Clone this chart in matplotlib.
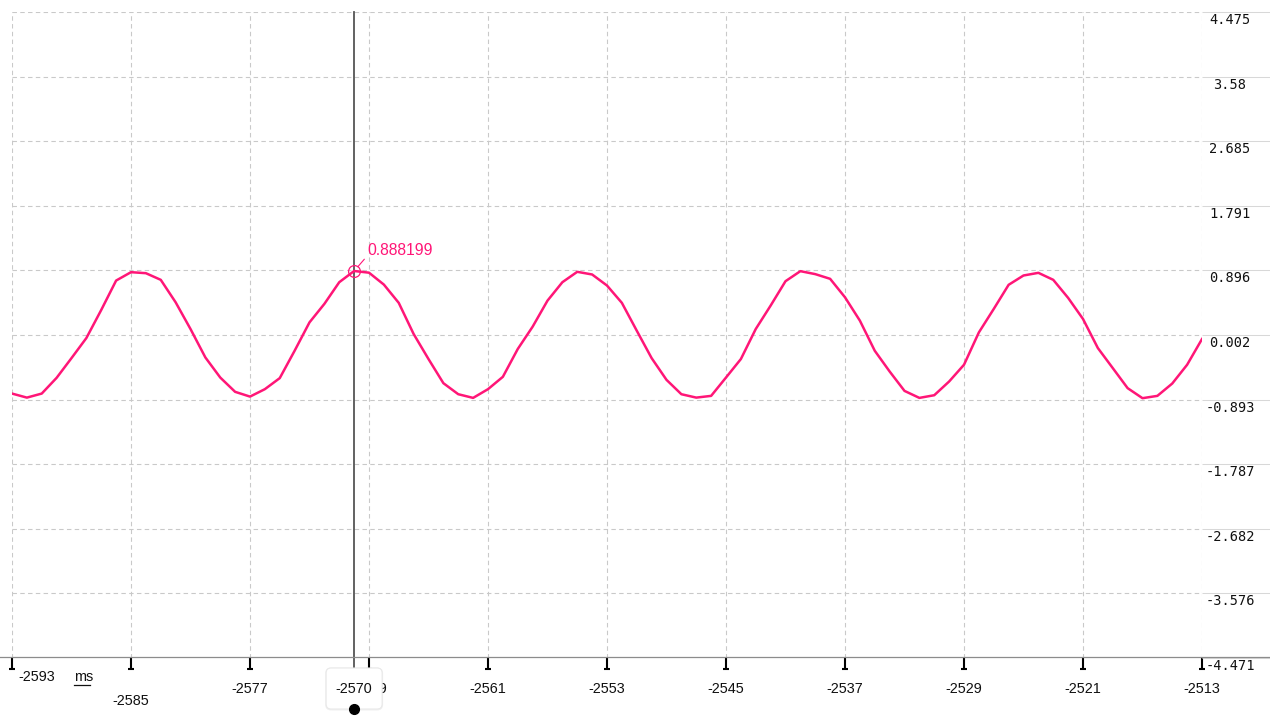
import numpy as np
import matplotlib
matplotlib.use("Agg")
import matplotlib.pyplot as plt
from matplotlib import transforms
from matplotlib.patches import FancyBboxPatch
from matplotlib.lines import Line2D

# ---------------- data ----------------
times = np.arange(-2593, -2512)  # ms, one sample per ms
values = [-0.809, -0.865, -0.809, -0.591, -0.318, -0.040, 0.349, 0.756, 0.872, 0.858,
          0.766, 0.455, 0.085, -0.309, -0.587, -0.785, -0.851, -0.748, -0.595, -0.216,
          0.177, 0.433, 0.733, 0.888199, 0.865, 0.700, 0.447, 0.016, -0.331, -0.665,
          -0.818, -0.869, -0.748, -0.577, -0.192, 0.117, 0.478, 0.733, 0.877, 0.840,
          0.687, 0.447, 0.062, -0.318, -0.619, -0.818, -0.865, -0.841, -0.587, -0.331,
          0.085, 0.409, 0.747, 0.886, 0.845, 0.780, 0.524, 0.201, -0.216, -0.503,
          -0.772, -0.869, -0.832, -0.642, -0.410, 0.038, 0.363, 0.697, 0.826, 0.863,
          0.766, 0.516, 0.224, -0.179, -0.456, -0.734, -0.873, -0.841, -0.670, -0.410,
          -0.054]
xticks = [-2593, -2585, -2577, -2569, -2561, -2553, -2545, -2537, -2529, -2521, -2513]
xticklabels = ["-2593", "-2585", "-2577", "-2569", "-2561", "-2553", "-2545",
               "-2537", "-2529", "-2521", "-2513"]
yticks = [4.475, 3.58, 2.685, 1.791, 0.896, 0.002, -0.893, -1.787, -2.682, -3.576, -4.471]
yticklabels = ["4.475", "3.58", "2.685", "1.791", "0.896", "0.002", "-0.893",
               "-1.787", "-2.682", "-3.576", "-4.471"]
x_unit = "ms"
cursor_x = -2570
cursor_val = 0.888199
cursor_label = "-2570"

# ---------------- style ----------------
PINK = "#ff1677"
GRID = "#c9c9c9"
W, H = 1270, 721
DPI = 100

fig = plt.figure(figsize=(W / DPI, H / DPI), dpi=DPI)
fig.patch.set_facecolor("white")
ax = fig.add_axes([12 / W, (H - 658) / H, (1202 - 12) / W, (658 - 12) / H])

ax.set_xlim(xticks[0], xticks[-1])
ax.set_ylim(yticks[-1], yticks[0])
ax.set_xticks(xticks)
ax.set_yticks(yticks)
for s in ax.spines.values():
    s.set_visible(False)

ax.grid(True, color=GRID, lw=0.8, linestyle=(0, (4, 3)))
ax.set_axisbelow(True)

# x ticks: black marks down from the axis
ax.tick_params(axis="x", direction="out", length=8, width=1.5, color="black")
# y ticks: long light lines on the right side
ax.yaxis.set_ticks_position("right")
ax.tick_params(axis="y", direction="out", length=49, width=0.75, color="#d8d8d8")
ax.tick_params(labelbottom=False, labelleft=False, labelright=False, labeltop=False)

def px(dx, dy):
    return transforms.ScaledTranslation(dx / DPI, dy / DPI, fig.dpi_scale_trans)

# tick feet
xa = ax.get_xaxis_transform()
ax.plot(xticks, [0] * len(xticks), linestyle="none", marker="_", ms=4, mew=1.5,
        color="black", transform=xa + px(0, -11), clip_on=False)

# bottom axis line across figure width
bl = transforms.blended_transform_factory(fig.transFigure, ax.transAxes)
fig.add_artist(Line2D([0, 1], [0.002, 0.002], color="#8c8c8c", lw=0.9, transform=bl))

# curve
ax.plot(times, values, color=PINK, lw=1.8, solid_joinstyle="round", zorder=3)

# y labels
ya = transforms.blended_transform_factory(ax.transAxes, ax.transData)
for v, lab in zip(yticks, yticklabels):
    ax.text(1.0, v, lab, transform=ya + px(28, -8), ha="center", va="center",
            fontsize=9.8, family="DejaVu Sans Mono", color="#111111", clip_on=False)

# x labels
rows = [19, 43] + [31] * (len(xticks) - 2)
XFONT = dict(fontsize=10.4, family="Liberation Sans", color="#111111")
for i, (t, lab) in enumerate(zip(xticks, xticklabels)):
    if i == 0:
        ax.text(t, 0, lab, transform=xa + px(6, -rows[i]), ha="left", va="center",
                clip_on=False, **XFONT)
    else:
        ax.text(t, 0, lab, transform=xa + px(0, -rows[i]), ha="center", va="center",
                clip_on=False, **XFONT)
# unit label with underline
ax.text(xticks[0], 0, x_unit, transform=xa + px(62, -19), ha="left", va="center",
        clip_on=False, **XFONT)

fig.canvas.draw()
x0_px, by_px = ax.transData.transform((xticks[0], yticks[-1]))
ul_y = (by_px - 27) / DPI
fig.add_artist(Line2D([(x0_px + 62) / DPI, (x0_px + 77.5) / DPI], [ul_y, ul_y],
                      color="#111111", lw=0.9, transform=fig.dpi_scale_trans))

# cursor line
ax.axvline(cursor_x, ymin=-10 / 646, ymax=1, color="#555555", lw=1.3, zorder=2.5, clip_on=False)

# marker + annotation
ax.plot([cursor_x], [cursor_val], marker="o", mfc="none", mec=PINK, ms=8.5, mew=0.9, zorder=5)
ax.annotate(f"{cursor_val:.6f}", xy=(cursor_x, cursor_val), xytext=(13, 21),
            textcoords="offset pixels", ha="left", va="center", color=PINK,
            fontsize=11.3, family="Liberation Sans",
            arrowprops=dict(arrowstyle="-", color=PINK, lw=0.8, shrinkA=0, shrinkB=4,
                            relpos=(0, 0.1)))

# tooltip box at the cursor
cx_px = ax.transData.transform((cursor_x, yticks[-1]))[0]
cx_in, by_in = cx_px / DPI, by_px / DPI
shadow = FancyBboxPatch((cx_in - 0.28, by_in - 0.515), 0.56, 0.41,
                        boxstyle="round,pad=0.01,rounding_size=0.06",
                        transform=fig.dpi_scale_trans, facecolor="black", alpha=0.06,
                        edgecolor="none", zorder=10)
box = FancyBboxPatch((cx_in - 0.28, by_in - 0.51), 0.56, 0.41,
                     boxstyle="round,pad=0,rounding_size=0.05",
                     transform=fig.dpi_scale_trans, facecolor="white",
                     edgecolor="#e9e9e9", lw=0.8, zorder=11)
fig.add_artist(shadow)
fig.add_artist(box)
fig.text(cx_in, by_in - 0.31, cursor_label, transform=fig.dpi_scale_trans, ha="center",
         va="center", zorder=12, **XFONT)
fig.add_artist(Line2D([cx_in], [by_in - 0.51], marker="o", ms=7, color="black",
                      transform=fig.dpi_scale_trans, zorder=13))

fig.savefig("out.png", dpi=DPI, facecolor="white")
